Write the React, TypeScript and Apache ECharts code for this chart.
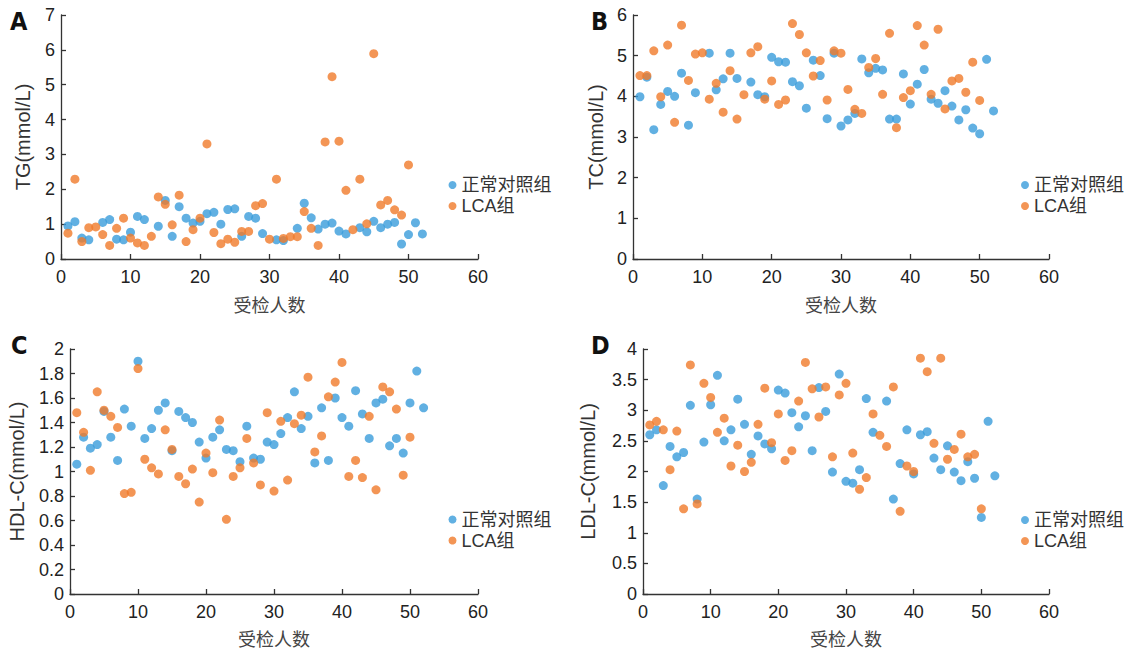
import React, { useEffect, useRef } from "react";
import * as echarts from "echarts";

const seriesNames = ["正常对照组", "LCA组"];
const xTicks = { min: 0, max: 60, interval: 10 };
const xName = "受检人数";

const tgControl = [[1,0.95],[2,1.07],[3,0.6],[4,0.55],[6,1.05],[7,1.13],[8,0.57],[9,0.55],[10,0.77],[11,1.22],[12,1.13],[14,0.94],[15,1.68],[16,0.65],[17,1.5],[18,1.17],[19,1.03],[20,1.08],[21,1.3],[22,1.34],[23,1.0],[24,1.42],[25,1.44],[26,0.65],[27,1.22],[28,1.17],[29,0.73],[31,0.55],[32,0.53],[34,0.88],[35,1.6],[36,1.18],[37,0.86],[38,1.0],[39,1.03],[40,0.8],[41,0.72],[43,0.9],[44,0.78],[45,1.08],[46,0.9],[47,1.0],[48,1.05],[49,0.43],[50,0.7],[51,1.04],[52,0.72]];
const tgLCA = [[1,0.74],[2,2.29],[3,0.5],[4,0.9],[5,0.92],[6,0.7],[7,0.39],[8,0.88],[9,1.17],[10,0.6],[11,0.46],[12,0.39],[13,0.65],[14,1.78],[15,1.57],[16,0.98],[17,1.83],[18,0.5],[19,0.84],[20,1.17],[21,3.3],[22,0.76],[23,0.44],[24,0.57],[25,0.48],[26,0.79],[27,0.79],[28,1.53],[29,1.59],[30,0.57],[31,2.29],[32,0.59],[33,0.64],[34,0.64],[35,1.36],[36,0.88],[37,0.39],[38,3.36],[39,5.23],[40,3.38],[41,1.97],[42,0.84],[43,2.29],[44,1.01],[45,5.89],[46,1.55],[47,1.68],[48,1.41],[49,1.26],[50,2.7]];

const tcControl = [[1,3.99],[2,4.47],[3,3.18],[4,3.8],[5,4.12],[6,4.0],[7,4.57],[8,3.29],[9,4.09],[11,5.06],[12,4.16],[13,4.43],[14,5.06],[15,4.44],[17,4.35],[18,4.04],[19,3.99],[20,4.96],[21,4.85],[22,4.84],[23,4.36],[24,4.26],[25,3.71],[26,4.89],[27,4.51],[28,3.45],[29,5.06],[30,3.27],[31,3.42],[32,3.58],[33,4.92],[34,4.58],[35,4.69],[36,4.65],[37,3.44],[38,3.44],[39,4.55],[40,3.81],[41,4.3],[42,4.66],[43,3.93],[44,3.83],[45,4.14],[46,3.76],[47,3.42],[48,3.67],[49,3.22],[50,3.08],[51,4.91],[52,3.64]];
const tcLCA = [[1,4.51],[2,4.51],[3,5.12],[4,3.99],[5,5.26],[6,3.36],[7,5.75],[8,4.39],[9,5.04],[10,5.07],[11,3.93],[12,4.32],[13,3.61],[14,4.63],[15,3.44],[16,4.04],[17,5.07],[18,5.22],[19,3.93],[20,4.38],[21,3.8],[22,3.91],[23,5.79],[24,5.52],[25,5.07],[26,4.5],[27,4.88],[28,3.91],[29,5.12],[30,5.06],[31,4.17],[32,3.68],[33,3.58],[34,4.71],[35,4.93],[36,4.05],[37,5.55],[38,3.23],[39,3.97],[40,4.14],[41,5.74],[42,5.26],[43,4.05],[44,5.65],[45,3.69],[46,4.38],[47,4.44],[48,4.1],[49,4.84],[50,3.9]];

const hdlControl = [[1,1.06],[2,1.28],[3,1.19],[4,1.22],[5,1.49],[6,1.28],[7,1.09],[8,1.51],[9,1.37],[10,1.9],[11,1.27],[12,1.35],[13,1.5],[14,1.56],[15,1.17],[16,1.49],[17,1.44],[18,1.4],[19,1.24],[20,1.11],[21,1.28],[22,1.34],[23,1.18],[24,1.17],[25,1.08],[26,1.37],[27,1.11],[28,1.1],[29,1.24],[30,1.22],[31,1.31],[32,1.44],[33,1.65],[34,1.35],[35,1.45],[36,1.07],[37,1.52],[38,1.09],[39,1.6],[40,1.44],[41,1.37],[42,1.66],[43,1.47],[44,1.27],[45,1.56],[46,1.59],[47,1.21],[48,1.27],[49,1.15],[50,1.56],[51,1.82],[52,1.52]];
const hdlLCA = [[1,1.48],[2,1.32],[3,1.01],[4,1.65],[5,1.5],[6,1.45],[7,1.36],[8,0.82],[9,0.83],[10,1.84],[11,1.1],[12,1.03],[13,0.98],[14,1.34],[15,1.18],[16,0.96],[17,0.9],[18,1.02],[19,0.75],[20,1.15],[21,0.99],[22,1.42],[23,0.61],[24,0.96],[25,1.03],[26,1.27],[27,1.07],[28,0.89],[29,1.48],[30,0.84],[31,1.41],[32,0.93],[33,1.39],[34,1.46],[35,1.77],[36,1.16],[37,1.29],[38,1.61],[39,1.73],[40,1.89],[41,0.96],[42,1.09],[43,0.95],[44,1.45],[45,0.85],[46,1.69],[47,1.65],[48,1.51],[49,0.97],[50,1.28]];

const ldlControl = [[1,2.6],[2,2.68],[3,1.77],[4,2.41],[5,2.24],[6,2.31],[7,3.08],[8,1.55],[9,2.48],[10,3.09],[11,3.57],[12,2.5],[13,2.68],[14,3.18],[15,2.77],[16,2.28],[17,2.58],[18,2.45],[19,2.37],[20,3.33],[21,3.28],[22,2.96],[23,2.73],[24,2.91],[25,2.34],[26,3.37],[27,2.98],[28,1.99],[29,3.59],[30,1.84],[31,1.81],[32,2.03],[33,3.19],[34,2.64],[36,3.15],[37,1.55],[38,2.13],[39,2.68],[40,1.96],[41,2.6],[42,2.65],[43,2.22],[44,2.03],[45,2.42],[46,1.99],[47,1.85],[48,2.16],[49,1.89],[50,1.25],[51,2.82],[52,1.93]];
const ldlLCA = [[1,2.76],[2,2.82],[3,2.68],[4,2.03],[5,2.66],[6,1.39],[7,3.74],[8,1.47],[9,3.44],[10,3.21],[11,2.64],[12,2.87],[13,2.09],[14,2.43],[15,2.0],[16,2.15],[17,2.77],[18,3.36],[19,2.47],[20,2.94],[21,2.18],[22,2.34],[23,3.15],[24,3.78],[25,3.35],[26,2.89],[27,3.38],[28,2.24],[29,3.25],[30,3.44],[31,2.3],[32,1.71],[33,1.9],[34,2.94],[35,2.59],[36,2.41],[37,3.38],[38,1.35],[39,2.09],[40,2.0],[41,3.85],[42,3.63],[43,2.46],[44,3.85],[45,2.2],[46,2.36],[47,2.61],[48,2.24],[49,2.28],[50,1.39]];

const panelLetters = ["A", "B", "C", "D"];
const yNames = ["TG(mmol/L)", "TC(mmol/L)", "HDL-C(mmol/L)", "LDL-C(mmol/L)"];
const yMax = [7, 6, 2, 4];
const yInterval = [1, 1, 0.2, 0.5];
const controlData = [tgControl, tcControl, hdlControl, ldlControl];
const lcaData = [tgLCA, tcLCA, hdlLCA, ldlLCA];

const BLUE = "#3a9cdb";
const ORANGE = "#f07b2a";
const AXIS = "#333";

const grids = [
  { left: 61, top: 15, width: 417, height: 244 },
  { left: 633, top: 15, width: 416, height: 244 },
  { left: 70, top: 349, width: 408, height: 245 },
  { left: 643, top: 349, width: 406, height: 245 },
];
const yNameGaps = [28, 27, 43, 45];
const xNameGaps = [36, 36, 35, 35];
const legendPos = [
  { left: 448.5, top: 175.5 },
  { left: 1021, top: 175.5 },
  { left: 448.5, top: 510 },
  { left: 1021, top: 510.5 },
];
const letterPos = [
  { left: 10, top: 9 },
  { left: 591, top: 9 },
  { left: 11, top: 333 },
  { left: 591, top: 333 },
];

export default function App() {
  const ref = useRef<HTMLDivElement>(null);
  useEffect(() => {
    if (!ref.current) return;
    const chart = echarts.init(ref.current, undefined, { renderer: "svg" });
    const latin = "'Liberation Sans', Arial, 'Noto Sans CJK SC', sans-serif";
    const option: any = {
      animation: false,
      backgroundColor: "#fff",
      grid: grids.map((g) => ({ ...g, containLabel: false })),
      xAxis: grids.map((_, i) => ({
        gridIndex: i,
        type: "value",
        min: xTicks.min,
        max: xTicks.max,
        interval: xTicks.interval,
        name: xName,
        nameLocation: "middle",
        nameGap: xNameGaps[i],
        nameTextStyle: { fontSize: 18, lineHeight: 18, color: "#444", fontFamily: "'Noto Sans CJK SC', sans-serif" },
        axisLine: { show: true, lineStyle: { color: AXIS, width: 1.3 } },
        axisTick: { show: true, inside: true, length: 5, lineStyle: { color: AXIS, width: 1.3 } },
        axisLabel: { fontSize: 18, color: "#222", margin: 9, fontFamily: latin },
        splitLine: { show: false },
      })),
      yAxis: grids.map((_, i) => ({
        gridIndex: i,
        type: "value",
        min: 0,
        max: yMax[i],
        interval: yInterval[i],
        name: yNames[i],
        nameLocation: "middle",
        nameGap: yNameGaps[i],
        nameTextStyle: { fontSize: 20, color: "#333", fontFamily: latin },
        axisLine: { show: true, lineStyle: { color: AXIS, width: 1.3 } },
        axisTick: { show: true, inside: true, length: 5, lineStyle: { color: AXIS, width: 1.3 } },
        axisLabel: { fontSize: 18, color: "#222", margin: 6, fontFamily: latin },
        splitLine: { show: false },
      })),
      legend: grids.map((_, i) => ({
        data: seriesNames,
        orient: "vertical",
        left: legendPos[i].left,
        top: legendPos[i].top,
        padding: 0,
        itemGap: 2,
        itemWidth: 8,
        itemHeight: 8,
        icon: "circle",
        textStyle: { fontSize: 18, lineHeight: 19, color: "#333", fontFamily: latin },
      })),
      graphic: panelLetters.map((t, i) => ({
        type: "text",
        left: letterPos[i].left,
        top: letterPos[i].top,
        style: {
          text: t,
          font: "bold 25px 'Liberation Sans Narrow', 'DejaVu Sans Condensed', sans-serif",
          fill: "#111",
        },
      })),
      series: grids.flatMap((_, i) => [
        {
          name: seriesNames[0],
          type: "scatter",
          xAxisIndex: i,
          yAxisIndex: i,
          symbol: "circle",
          symbolSize: 9,
          itemStyle: { color: BLUE },
          data: controlData[i],
        },
        {
          name: seriesNames[1],
          type: "scatter",
          xAxisIndex: i,
          yAxisIndex: i,
          symbol: "circle",
          symbolSize: 9,
          itemStyle: { color: ORANGE },
          data: lcaData[i],
        },
      ]),
    };
    chart.setOption(option);
    return () => chart.dispose();
  }, []);
  return (
    <div
      ref={ref}
      style={{ position: "fixed", left: 0, top: 0, width: 1137, height: 650, background: "#fff" }}
    />
  );
}
